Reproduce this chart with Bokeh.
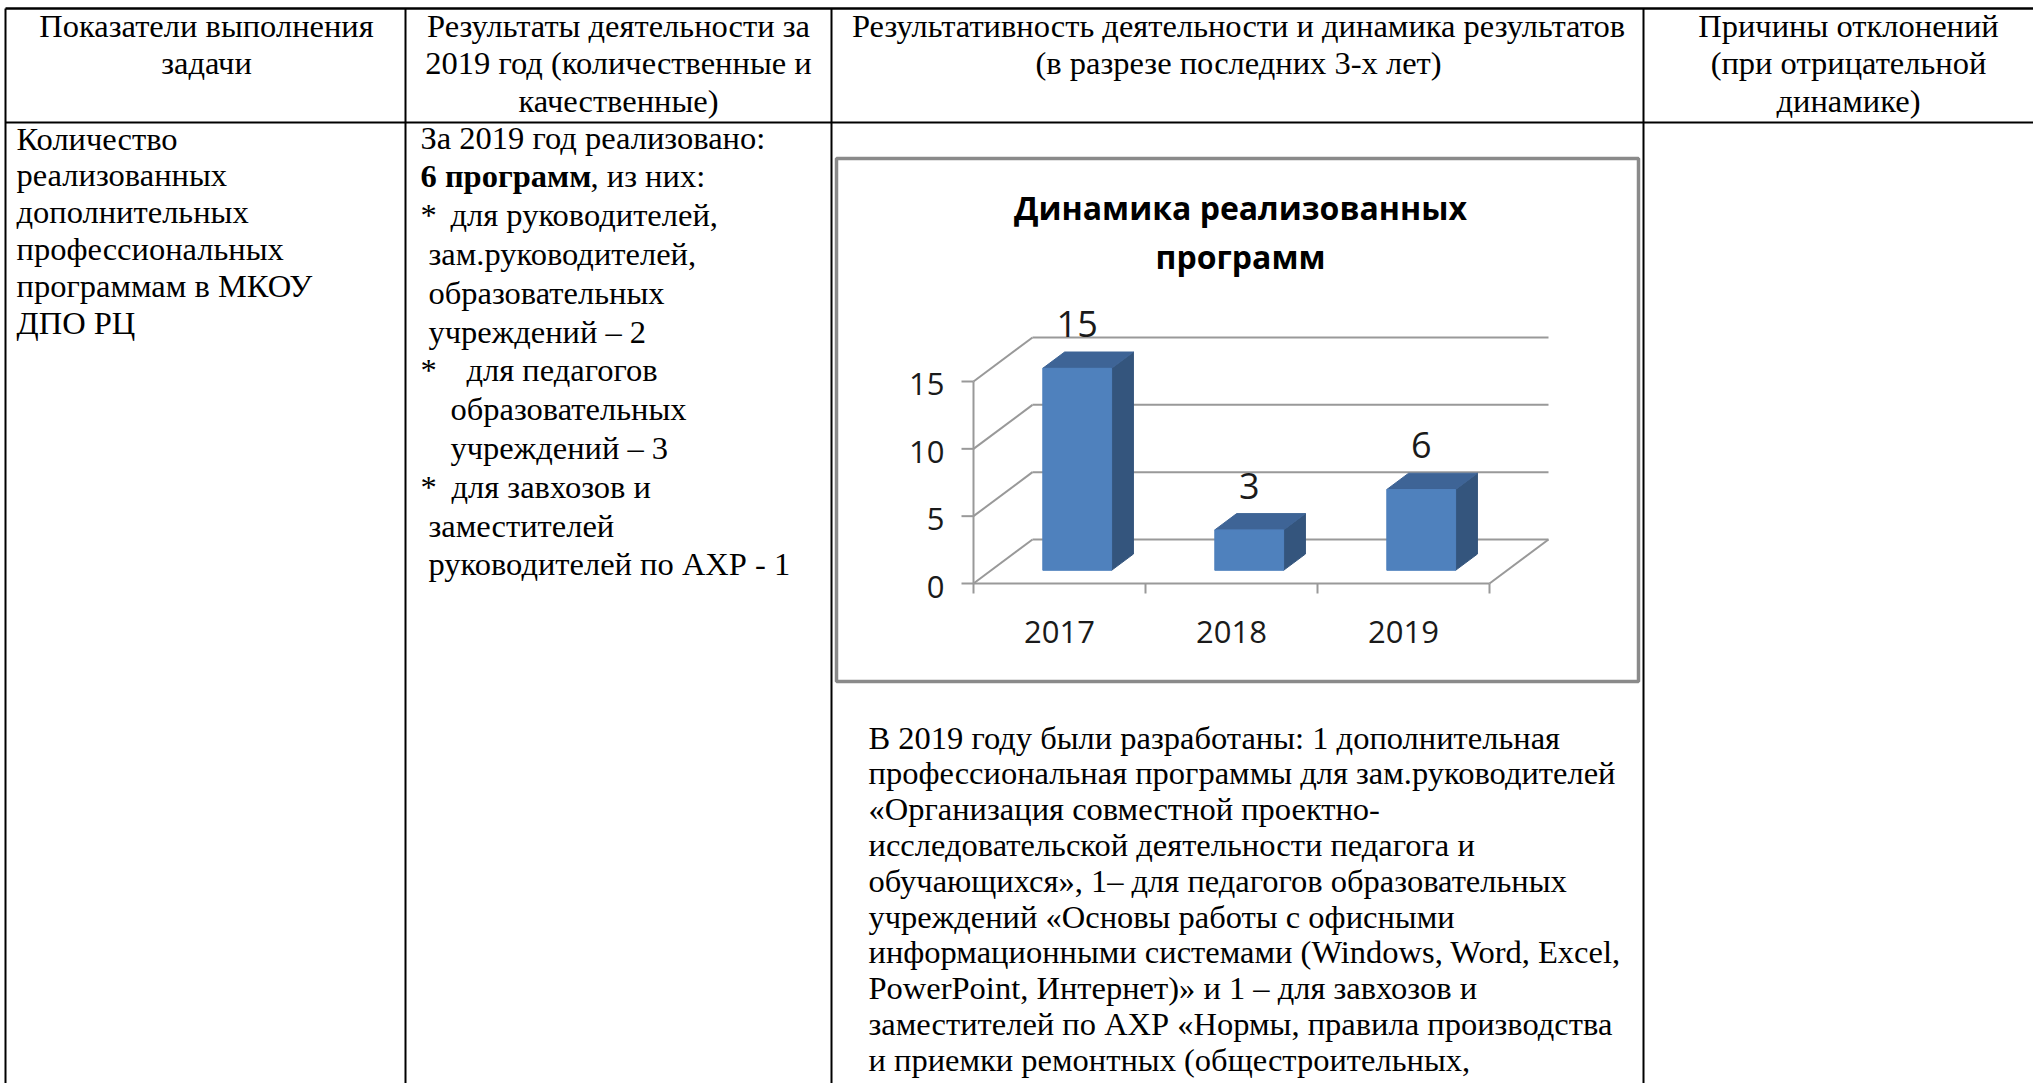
from bokeh.plotting import figure
from bokeh.models import Range1d
from bokeh.embed import file_html
from bokeh.resources import INLINE
from bokeh.core.properties import value

# ------------------------------------------------------------------ data
years = ["2017", "2018", "2019"]
programs = [15, 3, 6]
y_ticks = [0, 5, 10, 15]
chart_title = ["Динамика реализованных", "программ"]

header_col1 = ["Показатели выполнения", "задачи"]
header_col2 = ["Результаты деятельности за", "2019 год (количественные и", "качественные)"]
header_col3 = ["Результативность деятельности и динамика результатов",
               "(в разрезе последних 3-х лет)"]
header_col4 = ["Причины отклонений", "(при отрицательной", "динамике)"]

col1_text = ["Количество", "реализованных", "дополнительных",
             "профессиональных", "программам в МКОУ", "ДПО РЦ"]

col2_first = "За 2019 год реализовано:"
col2_bold = "6 программ"
col2_after_bold = ", из них:"
col2_lines = ["для руководителей,", "зам.руководителей,", "образовательных",
              "учреждений – 2", "для педагогов", "образовательных",
              "учреждений – 3", "для завхозов и", "заместителей",
              "руководителей по АХР - 1"]
col2_bullet_rows = [0, 4, 7]

col3_text = [
    "В 2019 году были разработаны: 1 дополнительная",
    "профессиональная программы для зам.руководителей",
    "«Организация совместной проектно-",
    "исследовательской деятельности педагога и",
    "обучающихся», 1– для педагогов образовательных",
    "учреждений «Основы работы с офисными",
    "информационными системами (Windows, Word, Excel,",
    "PowerPoint, Интернет)» и 1 – для завхозов и",
    "заместителей по АХР «Нормы, правила производства",
    "и приемки ремонтных (общестроительных,",
]

# ------------------------------------------------------------------ layout / style
W, H = 2033, 1083
OX, OY = 0, 0
SERIF = value("Liberation Serif")
SANS = value("Open Sans")
FS = "32.5px"

COL_X = [5, 405, 831, 1643]          # vertical rules
TOP_Y, HEAD_Y = 8, 122
# chart geometry (pixel scale of the chart)
X_CAT0, UX = 1059.0, 172.0           # category 0 centre on front plane, px per category
Y_VAL0, KY = 583.0, 13.467           # value 0 on front plane, px per unit
DX_PX, DY_PX = 59.0, 44.0            # full depth offset
F1, F2 = 0.30, 0.67                  # bar front / back depth fraction
HW = 0.2                             # half bar width in category units

p = figure(width=W, height=H, output_backend="svg", toolbar_location=None,
           x_range=Range1d(OX, OX + W), y_range=Range1d(OY + H, OY),
           min_border=0)
p.axis.visible = False
p.grid.visible = False
p.outline_line_color = None
p.background_fill_color = "white"
p.border_fill_color = "white"

p.extra_x_ranges = {"cat": Range1d((OX - X_CAT0) / UX, (OX + W - X_CAT0) / UX)}
p.extra_y_ranges = {"val": Range1d((Y_VAL0 - (OY + H)) / KY, (Y_VAL0 - OY) / KY)}

# ------------------------------------------------------------------ table rules
p.segment(x0=[COL_X[0], COL_X[0]], x1=[OX + W, OX + W], y0=[TOP_Y, HEAD_Y],
          y1=[TOP_Y, HEAD_Y], line_color="black", line_width=[2.5, 2])
p.segment(x0=COL_X, x1=COL_X, y0=[TOP_Y] * 4, y1=[OY + H] * 4,
          line_color="black", line_width=2)

# ------------------------------------------------------------------ header texts
def center_lines(lines, cx, base0, step):
    p.text(x=[cx] * len(lines), y=[base0 + i * step for i in range(len(lines))],
           text=lines, text_font=SERIF, text_font_size=FS, text_align="center",
           text_baseline="alphabetic", text_color="black")

center_lines(header_col1, 206, 25, 37.6)
center_lines(header_col2, 618, 25, 37.6)
center_lines(header_col3, 1238, 25, 37.6)
center_lines(header_col4, 1848, 25, 37.6)

# ------------------------------------------------------------------ column 1
p.text(x=[16] * len(col1_text), y=[138 + i * 36.8 for i in range(len(col1_text))],
       text=col1_text, text_font=SERIF, text_font_size=FS, text_align="left",
       text_baseline="alphabetic", text_color="black")

# ------------------------------------------------------------------ column 2
C2_Y0, C2_STEP = 137, 38.8
p.text(x=[420], y=[C2_Y0], text=[col2_first], text_font=SERIF, text_font_size=FS,
       text_baseline="alphabetic", text_color="black")
p.text(x=[420], y=[C2_Y0 + C2_STEP], text=[col2_bold], text_font=SERIF, text_font_size=FS,
       text_font_style="bold", text_baseline="alphabetic", text_color="black")
p.text(x=[590], y=[C2_Y0 + C2_STEP], text=[col2_after_bold], text_font=SERIF,
       text_font_size=FS, text_baseline="alphabetic", text_color="black")
indent = {0: 450, 4: 466, 5: 450, 6: 450, 7: 451}
c2x = [indent.get(i, 428) for i in range(len(col2_lines))]
c2y = [C2_Y0 + (i + 2) * C2_STEP for i in range(len(col2_lines))]
p.text(x=c2x, y=c2y, text=col2_lines, text_font=SERIF, text_font_size=FS,
       text_baseline="alphabetic", text_color="black")
p.text(x=[420] * len(col2_bullet_rows), y=[c2y[i] for i in col2_bullet_rows],
       text=["*"] * len(col2_bullet_rows), text_font=SERIF, text_font_size=FS,
       text_baseline="alphabetic", text_color="black")

# ------------------------------------------------------------------ column 3 text
p.text(x=[868] * len(col3_text), y=[737 + i * 35.8 for i in range(len(col3_text))],
       text=col3_text, text_font=SERIF, text_font_size=FS, text_align="left",
       text_baseline="alphabetic", text_color="black")

# ------------------------------------------------------------------ chart frame + title
p.quad(left=[836], right=[1638], top=[158], bottom=[681], fill_color="white",
       line_color="#8a8a8a", line_width=3.5)
p.text(x=[1240, 1240], y=[207, 256], text=chart_title, text_font=SANS,
       text_font_size="32px", text_font_style="bold", text_align="center",
       text_baseline="alphabetic", text_color="black")

# ------------------------------------------------------------------ 3-D column chart
dxu, dyu = DX_PX / UX, DY_PX / KY
n = len(years)
left_edge, right_edge = -0.5, n - 0.5
vmax = max(y_ticks)
GRID = "#999999"
ck = dict(x_range_name="cat", y_range_name="val")

# back wall gridlines
p.segment(x0=[left_edge + dxu] * len(y_ticks), x1=[right_edge + dxu] * len(y_ticks),
          y0=[t + dyu for t in y_ticks], y1=[t + dyu for t in y_ticks],
          line_color=GRID, line_width=2, **ck)
# side wall diagonals
p.segment(x0=[left_edge] * len(y_ticks), x1=[left_edge + dxu] * len(y_ticks),
          y0=y_ticks, y1=[t + dyu for t in y_ticks],
          line_color=GRID, line_width=2, **ck)
# floor: front edge, right diagonal
p.segment(x0=[left_edge, right_edge], x1=[right_edge, right_edge + dxu],
          y0=[0, 0], y1=[0, dyu], line_color=GRID, line_width=2, **ck)
# front vertical axis
p.segment(x0=[left_edge], x1=[left_edge], y0=[0], y1=[vmax],
          line_color=GRID, line_width=2, **ck)
# y ticks
tick_u = 12 / UX
p.segment(x0=[left_edge - tick_u] * len(y_ticks), x1=[left_edge] * len(y_ticks),
          y0=y_ticks, y1=y_ticks, line_color=GRID, line_width=2, **ck)
# x ticks (category boundaries)
xt = [left_edge + k for k in range(n + 1)]
p.segment(x0=xt, x1=xt, y0=[0] * len(xt), y1=[-10 / KY] * len(xt),
          line_color=GRID, line_width=2, **ck)

# bars
front_xs, front_ys, side_xs, side_ys, top_xs, top_ys = [], [], [], [], [], []
for i, v in enumerate(programs):
    a1, b1 = F1 * dxu, F1 * dyu
    a2, b2 = F2 * dxu, F2 * dyu
    l1, r1 = i - HW + a1, i + HW + a1
    l2, r2 = i - HW + a2, i + HW + a2
    front_xs.append([l1, r1, r1, l1]); front_ys.append([b1, b1, v + b1, v + b1])
    side_xs.append([r1, r2, r2, r1]); side_ys.append([b1, b2, v + b2, v + b1])
    top_xs.append([l1, r1, r2, l2]); top_ys.append([v + b1, v + b1, v + b2, v + b2])
p.patches(side_xs, side_ys, fill_color="#34557d", line_color="#34557d", line_width=1, **ck)
p.patches(top_xs, top_ys, fill_color="#3e6496", line_color="#3e6496", line_width=1, **ck)
p.patches(front_xs, front_ys, fill_color="#4f81bd", line_color="#4f81bd", line_width=1, **ck)

# data labels
p.text(x=[i + F1 * dxu for i in range(n)],
       y=[v + F1 * dyu + 44 / KY for v in programs],
       text=[str(v) for v in programs], text_font=SANS, text_font_size="36px",
       text_align="center", text_baseline="alphabetic", text_color="#1a1a1a", **ck)
# y tick labels
p.text(x=[left_edge - 29 / UX] * len(y_ticks), y=[t - 3 / KY for t in y_ticks],
       text=[str(t) for t in y_ticks], text_font=SANS, text_font_size="31px",
       text_align="right", text_baseline="alphabetic", text_color="#1a1a1a", **ck)
# category labels
p.text(x=list(range(n)), y=[-48 / KY] * n, text=years, text_font=SANS,
       text_font_size="31px", text_align="center", text_baseline="alphabetic",
       text_color="#1a1a1a", **ck)

open("out.html", "w").write(file_html(p, INLINE))
